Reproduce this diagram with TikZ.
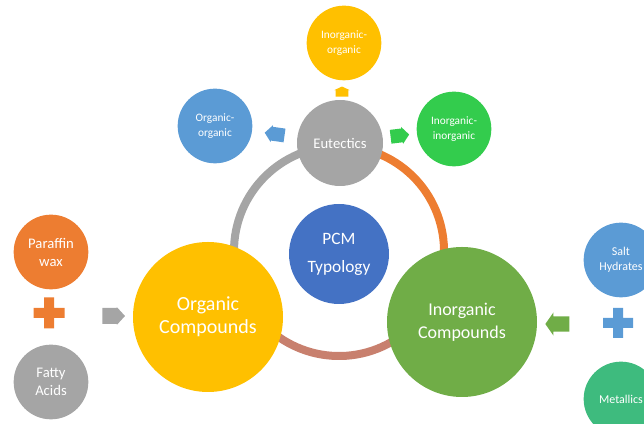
\documentclass[tikz,border=0pt]{standalone}
\usepackage{fontspec}
\setmainfont{Carlito}
\usetikzlibrary{arrows.meta,positioning,calc,shapes.arrows}
\definecolor{pcmblue}{HTML}{4472C4}
\definecolor{sunyellow}{HTML}{FFC000}
\definecolor{leafgreen}{HTML}{70AD47}
\definecolor{midgrey}{HTML}{A5A5A5}
\definecolor{skyblue}{HTML}{5B9BD5}
\definecolor{brightgreen}{HTML}{33CC4D}
\definecolor{tangerine}{HTML}{ED7D31}
\definecolor{seagreen}{HTML}{3EBB7E}
\definecolor{rosebrown}{HTML}{C8806E}
\tikzset{
    every picture/.style={line cap=round,line join=round},
    bubble/.style={circle,inner sep=1pt,outer sep=0pt,text=white,align=center},
    hubbubble/.style={bubble,minimum size=112.5pt},
    satbubble/.style={bubble,minimum size=56pt,
      font=\fontsize{8.5}{11}\selectfont},
    sidebubble/.style={bubble,minimum size=56pt},
    ringarc/.style={line width=6pt,line cap=butt},
    blockarrow/.style={single arrow,draw=none,inner xsep=0pt,inner ysep=5pt,
      outer sep=0pt,single arrow head extend=1.2pt,single arrow tip angle=100,
      minimum height=16pt}
}

\begin{document}
\begin{tikzpicture}[x=0.75pt,y=0.75pt]
  \useasboundingbox (0,0) rectangle (644,424);
  % ring behind the three main bubbles
  \coordinate (hub) at (339,173);
  \draw[ringarc,midgrey] (hub) ++(90:105) arc[start angle=90,end angle=207,radius=105];
  \draw[ringarc,rosebrown] (hub) ++(207:105) arc[start angle=207,end angle=330,radius=105];
  \draw[ringarc,tangerine] (hub) ++(330:105) arc[start angle=330,end angle=450,radius=105];

  \node[bubble,fill=pcmblue,minimum size=75pt,font=\fontsize{13}{21}\selectfont]
    (pcm) at (339,170) {PCM\\Typology};
  \node[bubble,fill=midgrey,minimum size=64.5pt,font=\fontsize{11}{13}\selectfont]
    (eut) at (340,281) {Eutectics};
  \node[hubbubble,fill=sunyellow,font=\fontsize{15}{17}\selectfont]
    (org) at (208,107) {Organic\\Compounds};
  \node[hubbubble,fill=leafgreen,font=\fontsize{13.5}{17}\selectfont]
    (inorg) at (462,102) {Inorganic\\Compounds};

  % eutectic mixtures
  \node[satbubble,fill=skyblue] (oo) at (215,298) {Organic-\\organic};
  \node[satbubble,fill=sunyellow] (io) at (344,381) {Inorganic-\\organic};
  \node[satbubble,fill=brightgreen] (ii) at (454,295) {Inorganic-\\inorganic};
  \node[blockarrow,fill=skyblue,rotate=172,minimum height=15pt]
    (toOO) at ($(eut)!0.5!(oo)$) {};
  \node[blockarrow,fill=sunyellow,rotate=90,minimum height=7.5pt,
    inner ysep=4.5pt,single arrow tip angle=130] (toIO) at ($(eut)!0.5!(io)$) {};
  \node[blockarrow,fill=brightgreen,rotate=7,minimum height=14pt]
    (toII) at ($(eut)!0.5!(ii)$) {};

  % organic side
  \node[sidebubble,fill=tangerine,font=\fontsize{11}{13.5}\selectfont]
    (paraffin) at (51,172) {Paraffin\\wax};
  \node[sidebubble,fill=midgrey,font=\fontsize{11}{13.5}\selectfont]
    (fatty) at (51,42) {Fatty\\Acids};
  \coordinate (plusL) at (49,111);
  \fill[tangerine] (plusL) ++(-15.5,-5) rectangle ++(31,10)
    (plusL) ++(-5,-15.5) rectangle ++(10,31);
  \node[blockarrow,fill=midgrey,minimum height=17pt,inner ysep=5.8pt,
    single arrow head extend=0.6pt,single arrow tip angle=95] (toOrg) at (110,108) {};

  % inorganic side
  \node[sidebubble,fill=skyblue,font=\fontsize{9}{11}\selectfont]
    (salt) at (621,164) {Salt\\Hydrates};
  \node[sidebubble,fill=seagreen,font=\fontsize{9}{11}\selectfont]
    (metal) at (621,25) {Metallics};
  \coordinate (plusR) at (618,101);
  \fill[skyblue] (plusR) ++(-15,-5) rectangle ++(30,10)
    (plusR) ++(-5,-15) rectangle ++(10,30);
  \node[blockarrow,fill=leafgreen,rotate=180,minimum height=18pt,
    inner ysep=5.5pt,single arrow head extend=3pt,single arrow tip angle=110]
    (toInorg) at (560,100) {};
\end{tikzpicture}
\end{document}
